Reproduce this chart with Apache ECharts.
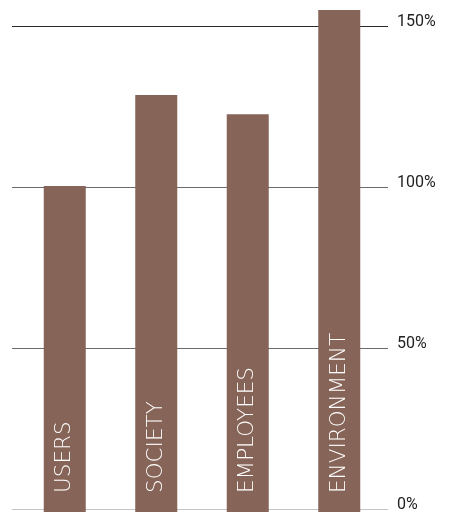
<!DOCTYPE html>
<html>
<head>
<meta charset="utf-8">
<script src="https://cdn.jsdelivr.net/npm/echarts@6/dist/echarts.min.js"></script>
<style>
html,body{margin:0;padding:0;background:#fff;}
#chart{width:451px;height:513px;}
</style>
</head>
<body>
<div id="chart"></div>
<script>
const categories = ['USERS', 'SOCIETY', 'EMPLOYEES', 'ENVIRONMENT'];
const values = [100.6, 128.7, 122.8, 154.9];
const tickValues = [0, 50, 100, 150];

const chart = echarts.init(document.getElementById('chart'), null, {renderer: 'canvas'});
chart.setOption({
  animation: false,
  grid: [
    {left: 12, right: 63, top: 26, bottom: 1, containLabel: false},
    {left: 19, right: 66, top: 26, bottom: 1, containLabel: false}
  ],
  xAxis: [
    {gridIndex: 0, type: 'category', data: categories, show: false},
    {gridIndex: 1, type: 'category', data: categories, show: false, boundaryGap: true}
  ],
  yAxis: [
    {
      gridIndex: 0, type: 'value', min: 0, max: 150, interval: 50, position: 'right',
      axisLine: {show: false}, axisTick: {show: false},
      axisLabel: {
        margin: 9, color: '#222', fontFamily: 'Roboto', fontSize: 16,
        verticalAlign: 'bottom', lineHeight: 9,
        formatter: v => v + '%'
      },
      splitLine: {show: true, lineStyle: {width: 1, color: ['#c4c4c4', '#6a6a6a', '#6a6a6a', '#2a2a2a']}}
    },
    {gridIndex: 1, type: 'value', min: 0, max: 150, interval: 50, show: false, splitLine: {show: false}}
  ],
  series: [{
    type: 'bar',
    xAxisIndex: 1, yAxisIndex: 1,
    data: values,
    barWidth: 42,
    clip: false,
    itemStyle: {color: '#866458'},
    label: {
      show: true,
      position: 'insideBottom',
      distance: 19,
      rotate: 90,
      align: 'left',
      verticalAlign: 'middle',
      color: '#fff',
      fontFamily: 'DejaVu Sans',
      fontWeight: 200,
      fontSize: 21.5,
      formatter: p => categories[p.dataIndex]
    }
  }]
});
</script>
</body>
</html>
